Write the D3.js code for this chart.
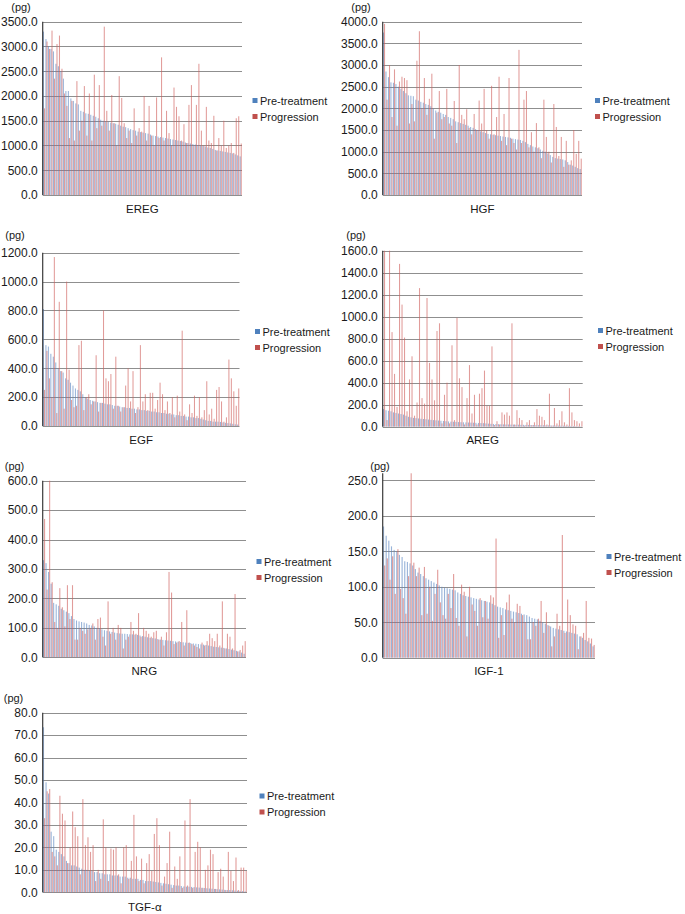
<!DOCTYPE html>
<html><head><meta charset="utf-8">
<script src="https://cdn.jsdelivr.net/npm/d3@7"></script>
<style>
body{margin:0;background:#fff}
svg{display:block}
text{font-family:"Liberation Sans",Arial,Helvetica,sans-serif;fill:#1a1a1a}
</style>
</head><body>
<svg id="chart" width="685" height="914"></svg>
<script>
// ---------------- DATA ----------------
const seriesNames = ["Pre-treatment", "Progression"];
const markers = ["EREG", "HGF", "EGF", "AREG", "NRG", "IGF-1", "TGF-α"];
const unitLabel = "(pg)";
const yMax = [3500, 4000, 1200, 1600, 600, 260, 80];
const yStep = [500, 500, 200, 200, 100, 50, 10];
const patients = d3.range(1, 81).map(String);

const EREG_pre = [3300,3150,3000,2950,2900,2650,2600,2500,2350,2100,
  2100,1950,1900,1850,1830,1700,1680,1650,1640,1620,
  1600,1580,1550,1520,1500,1490,1480,1460,1450,1440,
  1420,1400,1380,1370,1350,1330,1310,1300,1280,1270,
  1260,1250,1240,1220,1200,1190,1180,1170,1160,1150,
  1140,1130,1120,1110,1100,1090,1080,1060,1050,1040,
  1030,1020,1010,1000,990,980,960,950,930,910,
  900,890,880,870,860,850,840,820,800,780];
const EREG_prog = [1750,3100,2950,3320,2350,3050,3220,2550,2050,1800,
  1150,1900,1100,2300,1300,1500,2200,1200,2050,1100,
  2430,1350,2220,1400,3400,1700,1300,2020,1450,1000,
  2400,1960,1450,1150,1300,1050,1750,1200,1350,1280,
  2000,1100,1800,1200,1000,1970,1150,2780,1100,1700,
  1250,1000,2170,1780,1590,1100,1430,1050,1820,2220,
  1000,1820,2650,1300,1000,1780,1100,1050,1600,900,
  1150,1000,1500,950,1000,1050,850,1550,1590,1040];

const HGF_pre = [3750,2850,2720,2600,2590,2560,2500,2450,2400,2350,
  2300,2290,2280,2200,2180,2150,2130,2100,2080,2050,
  2000,1950,1920,1900,1870,1850,1800,1780,1750,1700,
  1680,1660,1640,1620,1600,1570,1550,1520,1500,1470,
  1450,1430,1410,1400,1390,1380,1370,1360,1350,1340,
  1330,1320,1300,1290,1280,1270,1250,1220,1180,1150,
  1120,1100,1080,1050,1020,1000,960,920,880,850,
  840,830,820,800,760,700,680,650,620,600];
const HGF_prog = [3950,2200,3000,1800,2900,1600,2620,2730,2700,2650,
  1650,2100,1700,3100,3780,2000,2700,1850,2220,2800,
  1300,1900,2400,1750,1800,2450,1650,1600,2170,1200,
  3000,1850,1750,1980,1550,1400,1870,1500,2180,1650,
  2450,1500,1300,2520,1400,1800,2730,1250,1870,1150,
  2700,1300,1200,1050,3350,1200,2200,2400,1100,1450,
  1000,1660,1100,850,2200,1340,1000,750,2100,1570,
  900,1340,650,1250,700,800,1500,950,1250,840];

const EGF_pre = [810,560,550,500,480,440,400,380,370,330,
  320,300,280,260,250,240,220,200,190,180,
  175,170,165,160,160,155,150,150,145,140,
  140,135,130,130,125,125,120,120,115,115,
  110,110,105,105,100,100,95,95,90,90,
  85,85,80,80,75,75,70,70,65,65,
  60,60,55,55,50,45,40,35,35,30,
  30,30,28,25,22,20,18,15,12,10];
const EGF_prog = [250,520,330,200,1170,90,860,380,120,1000,
  390,180,130,140,560,590,110,200,220,150,
  170,490,100,160,800,330,310,360,120,480,
  140,100,130,280,400,170,380,90,130,560,
  170,220,110,230,230,120,180,300,220,110,
  170,90,200,60,210,100,660,80,40,150,
  90,210,70,200,60,110,310,80,120,50,
  250,270,170,30,60,460,330,240,140,260];

const AREG_pre = [160,150,145,140,130,125,120,115,110,100,
  90,85,80,78,75,72,70,68,65,62,
  60,58,56,54,52,50,48,46,45,44,
  42,41,40,39,38,37,36,35,34,33,
  32,30,28,26,25,24,23,22,21,20,
  20,19,19,18,18,17,17,16,16,15,
  15,14,14,13,13,12,12,11,11,10,
  10,9,9,8,8,7,6,5,4,3];
const AREG_prog = [1600,60,1600,860,480,180,1480,1110,810,140,
  430,640,100,220,1260,260,210,1170,580,430,
  240,870,940,30,290,400,30,740,60,990,
  440,360,20,260,560,120,290,20,300,350,
  510,190,190,730,15,50,20,130,110,130,
  100,940,20,150,80,60,10,40,60,15,
  40,160,100,90,60,20,300,10,170,30,
  60,140,40,20,350,130,60,50,30,50];

const NRG_pre = [330,320,290,250,185,180,175,165,160,155,
  150,140,130,125,122,120,118,115,110,108,
  105,100,98,95,92,90,88,86,84,82,
  81,80,80,79,78,78,77,76,74,72,
  70,68,66,65,64,62,60,59,58,57,
  56,55,54,53,52,51,50,49,48,47,
  46,45,44,43,42,40,38,36,35,34,
  33,32,30,28,26,24,22,20,16,12];
const NRG_prog = [470,230,600,255,120,100,235,170,105,245,
  130,245,60,60,100,90,80,95,100,115,
  60,130,135,70,40,190,80,100,60,110,
  100,30,60,70,120,90,80,150,70,100,
  90,80,70,85,90,60,70,40,85,290,
  220,45,50,55,120,40,160,50,45,40,
  35,30,50,40,55,80,65,55,80,40,
  190,30,80,70,30,215,20,25,40,55];

const IGF1_pre = [185,172,165,157,152,150,145,142,136,135,
  133,130,125,120,118,115,112,110,108,106,
  104,102,100,99,98,97,96,95,92,90,
  88,87,86,85,84,83,82,81,80,79,
  78,76,74,72,71,70,68,67,66,65,
  64,63,62,61,60,58,56,55,54,52,
  50,48,46,44,42,41,40,39,38,37,
  36,35,34,33,30,28,25,23,20,16];
const IGF1_prog = [130,140,110,143,90,153,97,84,62,115,
  260,134,115,127,60,128,62,100,52,90,
  124,78,60,55,90,70,118,56,45,103,
  93,30,100,75,66,45,84,57,80,55,
  88,85,168,28,60,32,78,89,55,50,
  76,73,60,50,26,26,50,45,55,80,
  35,64,45,16,30,62,45,173,35,82,
  60,47,45,12,30,35,80,28,27,18];

const TGFa_pre = [73.5,49,44,27,25,19,18,17,16,14,
  13,12,12,11.5,11,10.5,10,10,9.5,9.5,
  9,9,8.5,8.5,8,8,8,7.5,7.5,7.5,
  7,7,7,6.5,6.5,6,6,6,5.5,5.5,
  5,5,5,4.8,4.6,4.4,4.2,4,3.8,3.6,
  3.4,3.2,3,3,2.8,2.6,2.5,2.5,2.4,2.3,
  2.2,2.1,2,1.9,1.8,1.7,1.6,1.5,1.4,1.3,
  1.2,1.1,1,1,0.9,0.8,0.7,0.6,0.5,0.4];
const TGFa_prog = [33,45,46,18,16,12,43,35,32,13,
  20,36,29,25,8,41.5,21,24.5,18,21,
  5,10,6,32.5,20,5,19.5,19,20,8,
  4,20,21,6,14,34.5,16,5,15,4,
  13,17,9.5,26,33,21,3,7,13,27,
  2,11.5,6,16,2,32,3,41.5,2,18,
  22.5,20,2,10,12,19,17,1.5,9,10.5,
  7,1,18,9.5,5,15.5,1,11,11,9.5];

const preValues = [EREG_pre, HGF_pre, EGF_pre, AREG_pre, NRG_pre, IGF1_pre, TGFa_pre];
const progValues = [EREG_prog, HGF_prog, EGF_prog, AREG_prog, NRG_prog, IGF1_prog, TGFa_prog];

// ---------------- LAYOUT ----------------
const layout = [
  {x0:42.7, x1:242,   yTop:21.7,  y0:195,   legX:255,   legY:100.5, pgX:21,  pgY:10.5,  titleY:212.5},
  {x0:382.7,x1:582,   yTop:21.7,  y0:195,   legX:597.5, legY:100.5, pgX:361, pgY:10.5,  titleY:212.5},
  {x0:42.7, x1:239.5, yTop:252.7, y0:426,   legX:257.5, legY:331.5, pgX:15,  pgY:238.5, titleY:444},
  {x0:382.7,x1:582.7, yTop:250.7, y0:426.7, legX:600.5, legY:330.5, pgX:356, pgY:238.5, titleY:444},
  {x0:42.7, x1:246,   yTop:480.7, y0:657.3, legX:259,   legY:561.5, pgX:14.5,pgY:469.5, titleY:674.5},
  {x0:382.7,x1:595,   yTop:473.3, y0:657.7, legX:609,   legY:556.5, pgX:380, pgY:469.5, titleY:674.5},
  {x0:42.7, x1:247,   yTop:712.7, y0:892.3, legX:262,   legY:796,   pgX:13.5,pgY:702,   titleY:910.5}
];
const colors = {"Pre-treatment":"#4F81BD", "Progression":"#C0504D"};
const barColors = {"Pre-treatment":"#5b86c2", "Progression":"#cf5f5c"};
const fmt = d3.format(".1f");

const svg = d3.select("#chart");

markers.forEach((name, i) => {
  const L = layout[i];
  const g = svg.append("g");
  const x = d3.scaleBand().domain(patients).range([L.x0, L.x1]).paddingInner(0.15).paddingOuter(0.1);
  const sub = d3.scaleBand().domain(seriesNames).range([0, x.bandwidth()]);
  const y = d3.scaleLinear().domain([0, yMax[i]]).range([L.y0, L.yTop]).clamp(true);
  const ticks = d3.range(0, yMax[i] + 1e-9, yStep[i]);

  // gridlines
  g.append("g").selectAll("line").data(ticks).join("line")
    .attr("x1", L.x0).attr("x2", L.x1)
    .attr("y1", d => Math.round(y(d)) + 0.5).attr("y2", d => Math.round(y(d)) + 0.5)
    .attr("stroke", "#8f8f8f").attr("stroke-width", 1);

  // bars
  const rows = patients.map((p, k) => ({p, vals: [preValues[i][k], progValues[i][k]]}));
  const cat = g.append("g").selectAll("g").data(rows).join("g")
    .attr("transform", d => `translate(${x(d.p)},0)`);
  cat.selectAll("rect").data(d => seriesNames.map((s, j) => ({s, v: d.vals[j]}))).join("rect")
    .attr("x", d => sub(d.s)).attr("width", sub.bandwidth())
    .attr("y", d => y(d.v)).attr("height", d => L.y0 - y(d.v))
    .attr("fill", d => barColors[d.s]).attr("fill-opacity", 0.62);

  // y axis
  const axis = d3.axisLeft(y).tickValues(ticks).tickFormat(fmt).tickSize(0).tickPadding(5);
  const ag = g.append("g").attr("transform", `translate(${L.x0},0)`).call(axis);
  ag.select(".domain").remove();
  ag.selectAll("text").style("font-size", "12px").attr("fill", "#1a1a1a")
    .style("font-family", '"Liberation Sans",Arial,sans-serif');
  g.append("line").attr("x1", L.x0).attr("x2", L.x0).attr("y1", L.yTop).attr("y2", L.y0)
    .attr("stroke", "#3a3a3a").attr("stroke-width", 1.2);

  // unit label
  g.append("text").attr("x", L.pgX).attr("y", L.pgY).attr("text-anchor", "middle")
    .style("font-size", "11px").text(unitLabel);

  // category title
  g.append("text").attr("x", (L.x0 + L.x1) / 2).attr("y", L.titleY).attr("text-anchor", "middle")
    .style("font-size", "11.5px").text(name);

  // legend
  const lg = g.append("g").attr("transform", `translate(${L.legX},${L.legY})`);
  seriesNames.forEach((s, j) => {
    lg.append("rect").attr("x", -2.5).attr("y", j * 16 - 2.5).attr("width", 5).attr("height", 5).attr("fill", colors[s]);
    lg.append("text").attr("x", 5).attr("y", j * 16 + 4).style("font-size", "11px").text(s);
  });
});
</script>
</body></html>
